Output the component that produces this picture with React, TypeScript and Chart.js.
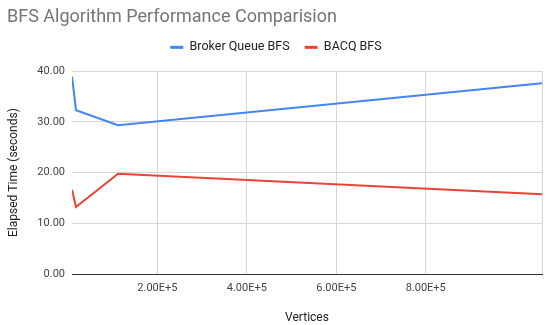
import React, { useEffect, useRef } from "react";
import { Chart, registerables } from "chart.js";

Chart.register(...registerables);

const vertices = [9000, 18000, 112000, 1060000];
const brokerQueueBFS = [38.9, 32.3, 29.35, 37.6];
const bacqBFS = [16.6, 13.2, 19.75, 15.7];
const xTickValues = [200000, 400000, 600000, 800000];
const yTickValues = [0, 10, 20, 30, 40];

const FONT = "Roboto, 'Liberation Sans', Arial, sans-serif";

const legendGapPlugin = {
  id: "legendGap",
  beforeLayout(chart: any) {
    const lg = chart.legend;
    if (lg && !lg.__patched) {
      const orig = lg.fit;
      lg.fit = function (...args: any[]) {
        orig.apply(this, args);
        this.height += 7.5;
      };
      lg.__patched = true;
    }
  },
};

export default function App() {
  const ref = useRef<HTMLCanvasElement | null>(null);

  useEffect(() => {
    if (!ref.current) return;
    const xMin = vertices[0];
    const xMax = vertices[vertices.length - 1];
    const chart = new Chart(ref.current, {
      type: "line",
      plugins: [legendGapPlugin],
      data: {
        datasets: [
          {
            label: "Broker Queue BFS",
            data: vertices.map((v, i) => ({ x: v, y: brokerQueueBFS[i] })),
            borderColor: "#4285F4",
            backgroundColor: "#4285F4",
            borderWidth: 2,
            pointRadius: 0,
            tension: 0,
          },
          {
            label: "BACQ BFS",
            data: vertices.map((v, i) => ({ x: v, y: bacqBFS[i] })),
            borderColor: "#EA4335",
            backgroundColor: "#EA4335",
            borderWidth: 2,
            pointRadius: 0,
            tension: 0,
          },
        ],
      },
      options: {
        responsive: false,
        animation: false,
        layout: { padding: { left: 7, right: 5, top: 0, bottom: 0 } },
        plugins: {
          title: {
            display: true,
            text: "BFS Algorithm Performance Comparision",
            align: "start",
            color: "#757575",
            font: { family: FONT, size: 18, weight: "normal" },
            padding: { top: 7, bottom: -2.5 },
          },
          legend: {
            display: true,
            position: "top",
            align: "center",
            labels: {
              color: "#222222",
              font: { family: FONT, size: 12.5 },
              boxWidth: 13,
              boxHeight: 3,
              padding: 15,
              generateLabels: (c: any) =>
                Chart.defaults.plugins.legend.labels
                  .generateLabels(c)
                  .map((l: any) => ({ ...l, lineWidth: 0 })),
            },
          },
          tooltip: { enabled: false },
        },
        scales: {
          x: {
            type: "linear",
            min: xMin,
            max: xMax,
            afterBuildTicks: (scale: any) => {
              scale.ticks = [xMin, ...xTickValues, xMax].map((v) => ({ value: v }));
            },
            afterFit: (scale: any) => {
              scale.height = 51;
            },
            ticks: {
              autoSkip: false,
              maxRotation: 0,
              color: "#444444",
              font: { family: FONT, size: 11 },
              padding: 8,
              callback: (v: any) =>
                v === xMin || v === xMax ? "" : Number(v).toExponential(2).toUpperCase(),
            },
            grid: {
              color: (ctx: any) =>
                ctx.tick && ctx.tick.value === xMin ? "rgba(0,0,0,0)" : "#d6d6d6",
              drawTicks: false,
            },
            border: { display: true, color: "#333333", width: 1 },
            title: {
              display: true,
              text: "Vertices",
              color: "#222222",
              font: { family: FONT, size: 12 },
              padding: { top: 14, bottom: 0 },
            },
          },
          y: {
            type: "linear",
            min: 0,
            max: 40,
            afterBuildTicks: (scale: any) => {
              scale.ticks = yTickValues.map((v) => ({ value: v }));
            },
            afterFit: (scale: any) => {
              scale.width = 65;
            },
            ticks: {
              color: "#444444",
              font: { family: FONT, size: 11 },
              padding: 7,
              callback: (v: any) => Number(v).toFixed(2),
            },
            grid: { color: "#d6d6d6", drawTicks: false },
            border: { display: false },
            title: {
              display: true,
              text: "Elapsed Time (seconds)",
              color: "#222222",
              font: { family: FONT, size: 12 },
              padding: { top: 0, bottom: 6 },
            },
          },
        },
      },
    });
    return () => chart.destroy();
  }, []);

  return (
    <div style={{ position: "fixed", left: 0, top: 0, width: 550, height: 325, background: "#fff" }}>
      <canvas ref={ref} width={550} height={325} style={{ display: "block" }} />
    </div>
  );
}
